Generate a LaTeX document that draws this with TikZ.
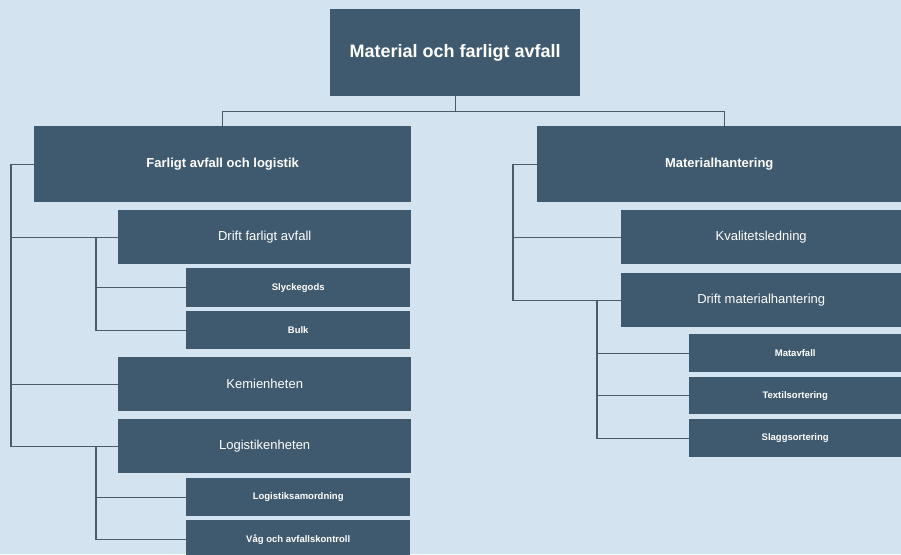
\documentclass[tikz,border=0pt]{standalone}
\usepackage{fontspec}
\setmainfont{Liberation Sans}
\definecolor{bgc}{HTML}{D3E3F0}
\definecolor{boxc}{HTML}{3F5A6E}
\definecolor{linec}{HTML}{4D5B66}
\tikzset{
  box/.style={fill=boxc, draw=none, inner sep=0pt, anchor=north west, text=white, align=center},
  toptext/.style={font=\fontsize{18}{20}\selectfont\bfseries},
  lvlone/.style={font=\fontsize{13}{15}\selectfont\bfseries},
  lvltwo/.style={font=\fontsize{13}{15}\selectfont},
  lvlthree/.style={font=\fontsize{9.5}{11}\selectfont\bfseries},
  conn/.style={draw=linec, line width=1.4pt}
}
\newcommand{\bx}[7]{% name, style, x1, y1, x2, y2, text
  \pgfmathsetmacro{\bw}{#5-#3}\pgfmathsetmacro{\bh}{#6-#4}
  \node[box,#2,minimum width=\bw pt,minimum height=\bh pt] (#1) at (#3,#4) {#7};}
\begin{document}
\begin{tikzpicture}[x=1pt,y=-1pt]
\fill[bgc] (0,0) rectangle (901,554);
\useasboundingbox (0,0) rectangle (901,554);
\begin{scope}
\clip (0,0) rectangle (901,554);
\bx{top}{toptext}{330}{9}{580}{96}{\raisebox{-2pt}{Material och farligt avfall}}
\bx{fa}{lvlone}{34}{126}{411}{202}{Farligt avfall och logistik}
\bx{drift}{lvltwo}{118}{210}{411}{264}{Drift farligt avfall}
\bx{sly}{lvlthree}{186}{268}{410}{307}{Slyckegods}
\bx{bulk}{lvlthree}{186}{311}{410}{349}{Bulk}
\bx{kem}{lvltwo}{118}{357}{411}{411}{Kemienheten}
\bx{logk}{lvltwo}{118}{419}{411}{473}{Logistikenheten}
\bx{ls}{lvlthree}{186}{478}{410}{516}{Logistiksamordning}
\bx{vag}{lvlthree}{186}{520}{410}{558}{V\aa g och avfallskontroll}
\bx{mh}{lvlone}{537}{126}{901}{202}{Materialhantering}
\bx{kval}{lvltwo}{621}{210}{901}{264}{Kvalitetsledning}
\bx{dm}{lvltwo}{621}{273}{901}{327}{Drift materialhantering}
\bx{mat}{lvlthree}{689}{334}{901}{372}{Matavfall}
\bx{tex}{lvlthree}{689}{377}{901}{414}{Textilsortering}
\bx{slag}{lvlthree}{689}{419}{901}{457}{Slaggsortering}
\draw[conn] (top.south) -- ++(0,15) -| (fa.north);
\draw[conn] (top.south) -- ++(0,15) -| ([xshift=5pt]mh.north);
\draw[conn] (fa.west) -- ++(-23,0) |- (drift.west);
\draw[conn] (fa.west) -- ++(-23,0) |- (kem.west);
\draw[conn] (fa.west) -- ++(-23,0) |- (logk.west);
\draw[conn] (drift.west) -- ++(-22,0) |- (sly.west);
\draw[conn] (drift.west) -- ++(-22,0) |- (bulk.west);
\draw[conn] (logk.west) -- ++(-22,0) |- (ls.west);
\draw[conn] (logk.west) -- ++(-22,0) |- (vag.west);
\draw[conn] (mh.west) -- ++(-24,0) |- (kval.west);
\draw[conn] (mh.west) -- ++(-24,0) |- (dm.west);
\draw[conn] (dm.west) -- ++(-24,0) |- (mat.west);
\draw[conn] (dm.west) -- ++(-24,0) |- (tex.west);
\draw[conn] (dm.west) -- ++(-24,0) |- (slag.west);
\end{scope}
\end{tikzpicture}
\end{document}
